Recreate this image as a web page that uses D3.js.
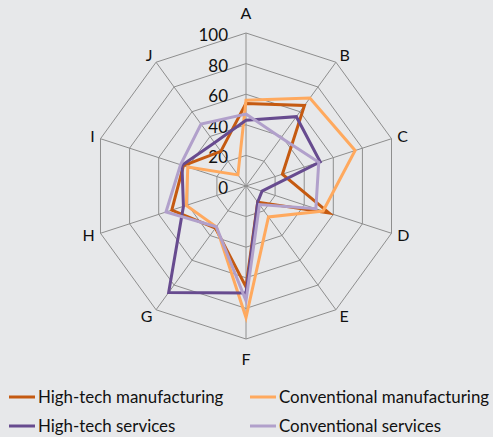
<!DOCTYPE html>
<html><head><meta charset="utf-8">
<script src="https://cdn.jsdelivr.net/npm/d3@7"></script>
<style>
html,body{margin:0;padding:0;background:#e7e8ea;}
svg{display:block;font-family:Lato,"Open Sans",sans-serif;}
</style></head>
<body><svg id="c" width="493" height="437"></svg>
<script>
const axes = ["A","B","C","D","E","F","G","H","I","J"];
const ticks = [0,20,40,60,80,100];
const seriesNames = ["High-tech manufacturing","Conventional manufacturing","High-tech services","Conventional services"];
const highTechManufacturing   = [54,65,25,57,13,66,34,51,43,28];
const conventionalManufacturing = [56,71,75,53,25,86,33,41,40,9];
const highTechServices        = [43,56,51,11,13,70,86,43,44,35];
const conventionalServices    = [47,39,50,48,15,75,33,55,45,50];
const colors = ["#c55a11","#ffa95e","#674b8f","#b1a0cb"];

const data = [highTechManufacturing, conventionalManufacturing, highTechServices, conventionalServices];
const svg = d3.select("#c");
svg.append("rect").attr("width",493).attr("height",437).attr("fill","#e7e8ea");
const cx = 246, cy = 186, R = 153;
const r = d3.scaleLinear().domain([0,100]).range([0,R]);
const ang = d3.scalePoint().domain(axes).range([0, 2*Math.PI*(axes.length-1)/axes.length]);
const pt = (a,v)=>[cx + r(v)*Math.sin(ang(a)), cy - r(v)*Math.cos(ang(a))];

const g = svg.append("g");
ticks.filter(t=>t>0).forEach(t=>{
  g.append("polygon").attr("points", axes.map(a=>pt(a,t).join(",")).join(" "))
   .attr("fill","none").attr("stroke","#8e8e8e").attr("stroke-width",1);
});
axes.forEach(a=>{
  const [x,y]=pt(a,100);
  g.append("line").attr("x1",cx).attr("y1",cy).attr("x2",x).attr("y2",y)
   .attr("stroke","#8e8e8e").attr("stroke-width",1);
});
axes.forEach(a=>{
  const th = ang(a), s=Math.sin(th), c=Math.cos(th);
  const [vx,vy]=pt(a,100);
  let x, y, anchor;
  if (Math.abs(s)<0.01){ x=vx; y=vy - c*20; anchor="middle"; }
  else { x = vx + 6*s; y = vy - 8*c; anchor = s>0?"start":"end"; }
  g.append("text").attr("x",x).attr("y",y).attr("dy","0.35em")
   .attr("text-anchor",anchor).attr("font-size",16).attr("fill","#111").text(a);
});
ticks.forEach(t=>{
  g.append("text").attr("x",cx-18).attr("y",cy - r(t)+2).attr("dy","0.35em")
   .attr("text-anchor","end").attr("font-size",17).attr("fill","#111").text(t);
});
const line = d3.lineRadial().angle((d,i)=>ang(axes[i])).radius(d=>r(d)).curve(d3.curveLinearClosed);
const sg = svg.append("g").attr("transform",`translate(${cx},${cy})`);
data.forEach((vals,i)=>{
  sg.append("path").attr("d",line(vals)).attr("fill","none")
    .attr("stroke",colors[i]).attr("stroke-width",3).attr("stroke-linejoin","miter");
});
const lg = svg.append("g");
const pos = [[9,397],[250,397],[9,426],[250,426]];
seriesNames.forEach((n,i)=>{
  const [x,y]=pos[i];
  lg.append("line").attr("x1",x).attr("x2",x+26).attr("y1",y).attr("y2",y)
    .attr("stroke",colors[i]).attr("stroke-width",3);
  lg.append("text").attr("x",x+29).attr("y",y).attr("dy","0.35em")
    .attr("font-size",16.9).attr("fill","#111").text(n);
});
</script></body></html>
